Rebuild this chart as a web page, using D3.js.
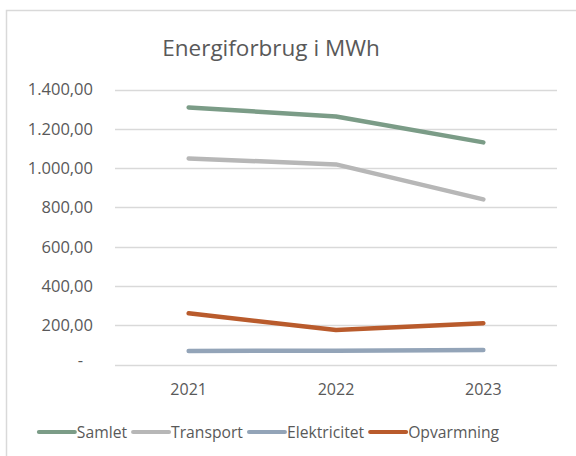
<!DOCTYPE html>
<html>
<head>
<meta charset="utf-8">
<script src="https://cdn.jsdelivr.net/npm/d3@7"></script>
<style>
  body { margin: 0; background: #fff; }
  svg { display: block; font-family: "Open Sans", sans-serif; }
</style>
</head>
<body>
<svg width="576" height="456"></svg>
<script>
// data
var years = ['2021', '2022', '2023']
var samlet = [1309, 1263, 1131]
var transport = [1049, 1019, 841]
var elektricitet = [70, 71, 75]
var opvarmning = [262, 176, 211]

var seriesNames = ['Samlet', 'Transport', 'Elektricitet', 'Opvarmning']
var seriesColors = ['#7b9c87', '#b7b7b7', '#93a4b8', '#b95b2c']
var yTicks = [0, 200, 400, 600, 800, 1000, 1200, 1400]

var series = [samlet, transport, elektricitet, opvarmning].map(function(v, i) {
	return { name: seriesNames[i], color: seriesColors[i], values: v }
})

var svg = d3.select('svg'),
	plotL = 115, plotR = 557, plotT = 89.5, plotB = 364.7

// outer chart border (cut off at right/bottom like the reference)
svg.append('rect')
	.attr('x', 6.5).attr('y', 10.5)
	.attr('width', 600).attr('height', 500)
	.attr('fill', 'none').attr('stroke', '#d9d9d9').attr('stroke-width', 1.5)

svg.append('text')
	.attr('x', 271).attr('y', 56)
	.attr('text-anchor', 'middle')
	.attr('font-size', 22.5)
	.attr('fill', '#595959')
	.text('Energiforbrug i MWh')

var x = d3.scaleBand().domain(years).range([plotL, plotR])
var y = d3.scaleLinear().domain([0, 1400]).range([plotB, plotT])

// gridlines
svg.append('g').selectAll('line').data(yTicks)
	.enter().append('line')
	.attr('x1', plotL).attr('x2', plotR)
	.attr('y1', function(d) { return Math.round(y(d)) + 0.5 })
	.attr('y2', function(d) { return Math.round(y(d)) + 0.5 })
	.attr('stroke', '#d9d9d9').attr('stroke-width', 1.3)

// y labels (danish number format, accounting dash for zero)
var fmt = d3.formatLocale({ decimal: ',', thousands: '.', grouping: [3], currency: ['', ''] }).format(',.2f')
svg.append('g').selectAll('text').data(yTicks)
	.enter().append('text')
	.attr('x', function(d) { return d === 0 ? 83 : 93 })
	.attr('y', function(d) { return y(d) })
	.attr('dy', function(d) { return d === 0 ? '0.1em' : '0.35em' })
	.attr('text-anchor', 'end')
	.attr('font-size', 16.5)
	.attr('fill', '#595959')
	.text(function(d) { return d === 0 ? '-' : fmt(d) })

// x labels
svg.append('g').selectAll('text').data(years)
	.enter().append('text')
	.attr('x', function(d) { return x(d) + x.bandwidth() / 2 })
	.attr('y', 395)
	.attr('text-anchor', 'middle')
	.attr('font-size', 16)
	.attr('fill', '#595959')
	.text(function(d) { return d })

var line = d3.line()
	.x(function(d, i) { return x(years[i]) + x.bandwidth() / 2 })
	.y(function(d) { return y(d) })

svg.append('g').selectAll('path').data(series)
	.enter().append('path')
	.attr('d', function(s) { return line(s.values) })
	.attr('fill', 'none')
	.attr('stroke', function(s) { return s.color })
	.attr('stroke-width', 4.5)
	.attr('stroke-linecap', 'round')
	.attr('stroke-linejoin', 'round')

// legend, laid out from measured text widths and centred
var legend = svg.append('g')
var items = legend.selectAll('g').data(series).enter().append('g')
items.append('line')
	.attr('x1', 2).attr('x2', 38).attr('y1', 0).attr('y2', 0)
	.attr('stroke', function(s) { return s.color })
	.attr('stroke-width', 4).attr('stroke-linecap', 'round')
items.append('text')
	.attr('x', 40).attr('dy', '0.35em')
	.attr('font-size', 15.7)
	.attr('fill', '#595959')
	.text(function(s) { return s.name })

var pos = 0
items.each(function() {
	var w = this.querySelector('text').getComputedTextLength()
	d3.select(this).attr('transform', 'translate(' + pos + ',0)')
	pos += 40 + w + 4
})
legend.attr('transform', 'translate(' + (268 - (pos - 4) / 2) + ',432)')
</script>
</body>
</html>
